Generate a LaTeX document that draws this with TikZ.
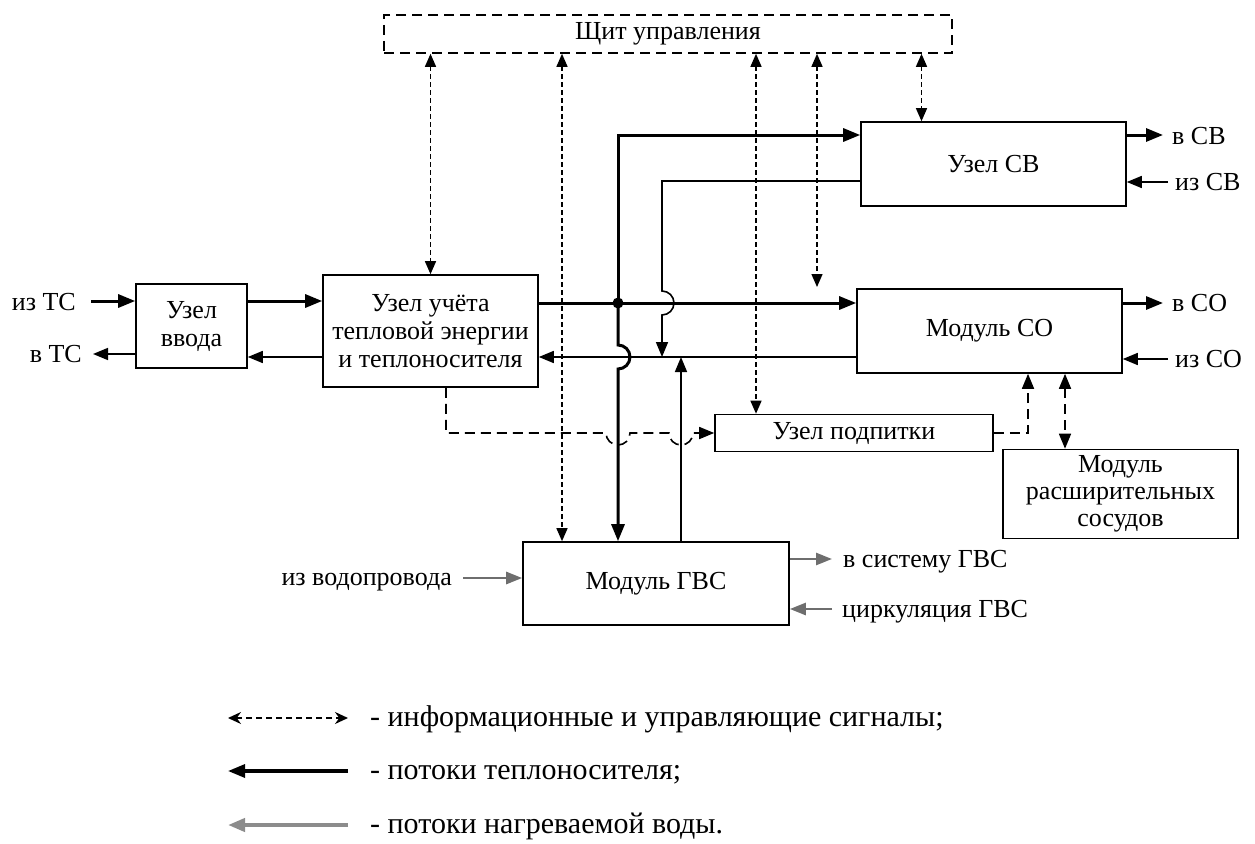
\documentclass[tikz,border=0pt]{standalone}
\usepackage{fontspec}
\setmainfont{Liberation Serif}
\usetikzlibrary{arrows.meta}
\definecolor{watergray}{HTML}{6E6E6E}
\definecolor{leggray}{HTML}{8C8C8C}

\begin{document}
\begin{tikzpicture}[
      x=1pt, y=1pt,
      box/.style={draw, line width=1.6pt, inner sep=0pt, align=center, font=\fontsize{26}{28}\selectfont},
      lbl/.style={inner sep=0pt, font=\fontsize{26}{28}\selectfont},
      legtext/.style={inner sep=0pt, font=\fontsize{30}{32}\selectfont},
      hot/.style={line width=3pt, -{Triangle[length=17pt,width=13pt]}},
      cold/.style={line width=1.6pt, -{Triangle[length=15pt,width=12pt]}},
      water/.style={line width=2.6pt, watergray, -{Triangle[length=16pt,width=12pt]}},
      sig/.style={line width=1.4pt, dash pattern=on 5pt off 3pt, {Triangle[length=13pt,width=11pt]}-{Triangle[length=13pt,width=11pt]}},
      feed/.style={line width=1.6pt, dash pattern=on 10pt off 6pt}
    ]
    \useasboundingbox (0,0) rectangle (1255,-843);

    % blocks
    \node[box, dash pattern=on 10pt off 6pt, minimum width=568pt, minimum height=38pt] (panel) at (668,-34) {Щит управления};
    \node[box, minimum width=111pt, minimum height=84pt] (vvod) at (191.5,-326) {Узел\\ввода};
    \node[box, minimum width=215pt, minimum height=112pt] (uchet) at (430.5,-331) {Узел учёта\\тепловой энергии\\и теплоносителя};
    \node[box, minimum width=265pt, minimum height=84pt] (sv) at (993.5,-164) {Узел СВ};
    \node[box, minimum width=265pt, minimum height=84pt] (co) at (989.5,-331) {Модуль СО};
    \node[box, minimum width=278pt, minimum height=37pt] (podp) at (854,-433) {Узел подпитки};
    \node[box, minimum width=235pt, minimum height=89pt, font=\fontsize{26}{27}\selectfont] (rassh) at (1120.5,-494) {Модуль\\расширительных\\сосудов};
    \node[box, minimum width=266pt, minimum height=83pt] (gvs) at (656,-583.5) {Модуль ГВС};

    % outer labels
    \node[lbl, anchor=base east] (izts) at (76,-310) {из ТС};
    \node[lbl, anchor=base east] (vts) at (82,-362) {в ТС};
    \node[lbl, anchor=base west] (vsv) at (1172,-144) {в СВ};
    \node[lbl, anchor=base west] (izsv) at (1175,-190) {из СВ};
    \node[lbl, anchor=base west] (vco) at (1172,-311) {в СО};
    \node[lbl, anchor=base west] (izco) at (1175,-367) {из СО};
    \node[lbl, anchor=base east] (izvod) at (452,-585) {из водопровода};
    \node[lbl, anchor=base west] (vgvs) at (843,-567) {в систему ГВС};
    \node[lbl, anchor=base west] (cirk) at (842,-617) {циркуляция ГВС};

    \coordinate (jn) at (618,-303);
    \coordinate (tsv) at (618,-135);
    \coordinate (ret) at (681,-357);
    \coordinate (svret) at (662,-181);
    \coordinate (sco) at (817,-287);
    \coordinate (sg) at ([xshift=-94pt]gvs.north);
    \coordinate (sp) at ([xshift=-98pt]podp.north);
    \coordinate (ssv) at ([xshift=-72pt]sv.north);
    \coordinate (fd) at ([xshift=15.5pt]uchet.south);
    \coordinate (fco) at ([xshift=38.5pt]co.south);
    \coordinate (fr) at ([xshift=75.5pt]co.south);

    % heat carrier
    \draw[hot] ([xshift=15pt,yshift=9pt]izts.base east) -- ([yshift=9pt]vvod.west |- izts.base);
    \draw[hot] ([yshift=9pt]vvod.east |- izts.base) -- ([yshift=9pt]uchet.west |- izts.base);
    \draw[cold] (uchet.west |- ret) -- (vvod.east |- ret);
    \draw[cold] ([yshift=8pt]vvod.west |- vts.base) -- ([xshift=11pt,yshift=8pt]vts.base east);
    \draw[hot] (uchet.east |- jn) -- (co.west |- jn);
    \draw[hot] (jn) -- (tsv) -- (sv.west |- tsv);
    \draw[hot] (jn) -- ([yshift=-42pt]jn) arc[start angle=90, end angle=-90, radius=12] -- (gvs.north -| jn);
    \fill (jn) circle (5.5pt);
    \draw[cold] (co.west |- ret) -- (uchet.east |- ret);
    \draw[cold] (sv.west |- svret) -- (svret) -- ([yshift=-110pt]svret) arc[start angle=90, end angle=-90, radius=12] -- (svret |- ret);
    \draw[cold] (gvs.north -| ret) -- (ret);
    \draw[hot] ([yshift=9pt]sv.east |- vsv.base) -- ([xshift=-9pt,yshift=9pt]vsv.base west);
    \draw[cold] ([xshift=-7pt,yshift=8pt]izsv.base west) -- ([yshift=8pt]sv.east |- izsv.base);
    \draw[hot] ([yshift=8pt]co.east |- vco.base) -- ([xshift=-9pt,yshift=8pt]vco.base west);
    \draw[cold] ([xshift=-7pt,yshift=8pt]izco.base west) -- ([yshift=8pt]co.east |- izco.base);

    % heated water
    \draw[water] ([xshift=11pt,yshift=7pt]izvod.base east) -- ([yshift=7pt]gvs.west |- izvod.base);
    \draw[water] ([yshift=8pt]gvs.east |- vgvs.base) -- ([xshift=-11pt,yshift=8pt]vgvs.base west);
    \draw[water] ([xshift=-10pt,yshift=8pt]cirk.base west) -- ([yshift=8pt]gvs.east |- cirk.base);

    % signals
    \draw[sig] (panel.south -| uchet.north) -- (uchet.north);
    \draw[sig] (panel.south -| sg) -- (sg);
    \draw[sig] (panel.south -| sp) -- (sp);
    \draw[sig] (panel.south -| sco) -- (sco);
    \draw[sig] (panel.south -| ssv) -- (ssv);

    % make-up water
    \draw[feed, -{Triangle[length=15pt,width=12pt]}] (fd) |- ([xshift=-12pt]jn |- podp.west) arc[start angle=180, end angle=360, radius=12] -- ([xshift=-12pt]ret |- podp.west) arc[start angle=180, end angle=360, radius=12] -- (podp.west);
    \draw[feed, -{Triangle[length=15pt,width=12pt]}] (podp.east) -| (fco);
    \draw[feed, {Triangle[length=15pt,width=12pt]}-{Triangle[length=15pt,width=12pt]}] (fr) -- (fr |- rassh.north);

    % legend
    \node[legtext, anchor=base west] (leg1) at (370,-726) {- информационные и управляющие сигналы;};
    \node[legtext, anchor=base west] (leg2) at (370,-779) {- потоки теплоносителя;};
    \node[legtext, anchor=base west] (leg3) at (370,-833) {- потоки нагреваемой воды.};
    \draw[line width=1.5pt, dash pattern=on 6pt off 4pt, {Stealth[length=13pt,width=12pt]}-{Stealth[length=13pt,width=12pt]}] ([xshift=-142pt,yshift=8pt]leg1.base west) -- ([xshift=-22pt,yshift=8pt]leg1.base west);
    \draw[line width=3.2pt, -{Triangle[length=17pt,width=13pt]}] ([xshift=-22pt,yshift=8pt]leg2.base west) -- ([xshift=-142pt,yshift=8pt]leg2.base west);
    \draw[line width=4pt, leggray, -{Triangle[length=17pt,width=13pt]}] ([xshift=-22pt,yshift=8pt]leg3.base west) -- ([xshift=-142pt,yshift=8pt]leg3.base west);
  \end{tikzpicture}
\end{document}
